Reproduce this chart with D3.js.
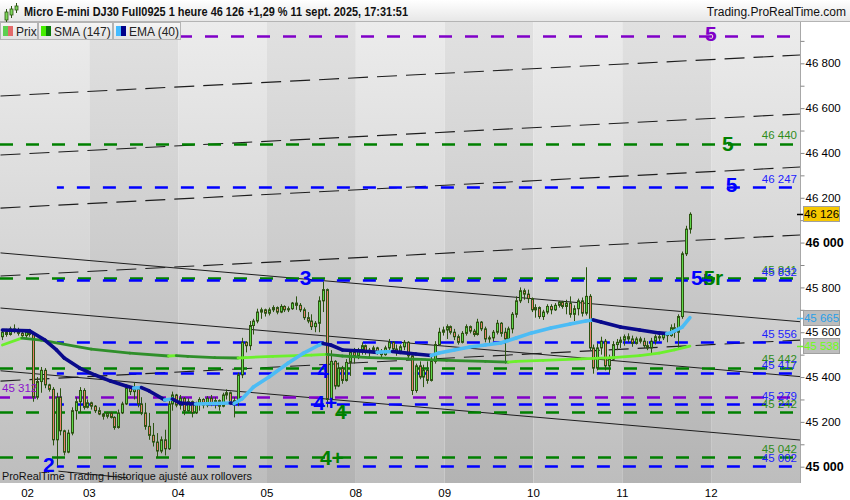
<!DOCTYPE html>
<html><head><meta charset="utf-8">
<script src="https://cdn.jsdelivr.net/npm/d3@7"></script>
<style>body{margin:0;background:#fff;}svg{display:block;font-family:"Liberation Sans",Arial,sans-serif;}</style>
</head><body><svg id="c" width="850" height="500"></svg>
<script>
// ---------- DATA ----------
const title = "Micro E-mini DJ30 Full0925 1 heure 46 126 +1,29 % 11 sept. 2025, 17:31:51";
const source = "Trading.ProRealTime.com";
const footer = "ProRealTime Trading  Historique ajusté aux rollovers";
const legendNames = ["Prix", "SMA (147)", "EMA (40)"];
const dayLabels = ["02","03","04","05","08","09","10","11","12"];
const dayTickSlots = [7, 23, 46, 69, 92, 115, 138, 161, 184];
const dayBounds = [0, 23, 46, 69, 92, 115, 138, 161, 184, 207];

const opens = [
45580,45600,45590,45615,45605,45595,45585,45600,45590,45310,
45380,45430,45365,45345,45120,45310,45160,45065,45150,45250,
45290,45340,45265,45285,45270,45250,45235,45225,45240,45220,
45175,45240,45280,45350,45335,45345,45280,45240,45180,45140,
45110,45070,45120,45080,45280,45320,45275,45305,45250,45290,
45240,45280,45300,45275,45305,45285,45295,45270,45320,45330,
45285,45295,45410,45555,45540,45630,45650,45690,45700,45685,
45700,45710,45690,45715,45700,45705,45730,45720,45700,45665,
45650,45625,45640,45740,45790,45300,45470,45360,45440,45385,
45465,45510,45495,45520,45540,45510,45520,45530,45510,45500,
45530,45555,45525,45510,45535,45555,45495,45340,45450,45400,
45430,45385,45470,45545,45600,45610,45625,45600,45580,45555,
45595,45625,45605,45590,45645,45615,45570,45575,45600,45640,
45600,45570,45615,45680,45740,45785,45770,45750,45700,45710,
45670,45690,45715,45700,45720,45735,45715,45730,45680,45705,
45740,45685,45760,45530,45440,45530,45560,45450,45480,45545,
45555,45565,45580,45570,45550,45570,45560,45540,45530,45560,
45580,45575,45590,45585,45620,45600,45670,45950,46060];
const highs = [
45610,45615,45625,45635,45620,45610,45605,45615,45600,45400,
45445,45440,45370,45355,45330,45350,45165,45165,45265,45310,
45355,45350,45300,45290,45275,45265,45240,45245,45245,45225,
45255,45290,45365,45355,45375,45350,45310,45285,45240,45195,
45150,45135,45165,45300,45335,45325,45320,45310,45305,45295,
45290,45310,45305,45315,45320,45310,45300,45330,45345,45335,
45310,45420,45575,45560,45650,45660,45705,45710,45705,45710,
45720,45715,45725,45720,45715,45735,45760,45730,45710,45690,
45680,45650,45760,45825,45795,45520,45475,45465,45450,45480,
45525,45530,45530,45555,45545,45530,45540,45535,45525,45540,
45570,45560,45545,45545,45565,45560,45510,45460,45470,45455,
45470,45490,45560,45620,45625,45635,45630,45615,45590,45605,
45635,45630,45615,45660,45650,45625,45585,45610,45655,45645,
45620,45625,45690,45760,45800,45795,45790,45755,45725,45715,
45700,45725,45725,45730,45740,45740,45745,45760,45720,45750,
45755,45890,45770,45545,45550,45580,45570,45500,45560,45570,
45580,45590,45595,45585,45580,45580,45575,45560,45575,45590,
45595,45600,45600,45635,45640,45680,45960,46075,46135];
const lows = [
45565,45580,45585,45595,45585,45575,45570,45580,45290,45300,
45330,45350,45335,45095,45005,45140,45050,45060,45140,45210,
45240,45255,45260,45255,45240,45230,45210,45215,45215,45165,
45170,45235,45275,45320,45300,45265,45230,45165,45120,45090,
45040,45060,45050,45075,45250,45265,45255,45230,45245,45220,
45235,45250,45260,45265,45270,45260,45250,45265,45300,45275,
45220,45270,45395,45510,45520,45590,45640,45660,45670,45675,
45690,45680,45685,45690,45690,45700,45700,45690,45655,45640,
45610,45600,45600,45690,45265,45280,45345,45355,45370,45380,
45405,45460,45480,45500,45500,45490,45505,45500,45485,45495,
45520,45515,45495,45505,45520,45480,45320,45330,45390,45355,
45370,45380,45460,45540,45585,45570,45590,45565,45545,45550,
45585,45595,45580,45585,45605,45555,45545,45560,45590,45580,
45460,45560,45595,45665,45730,45745,45730,45690,45665,45660,
45655,45680,45680,45695,45710,45705,45680,45665,45650,45675,
45670,45675,45520,45415,45430,45500,45430,45415,45475,45520,
45530,45540,45555,45535,45545,45550,45530,45520,45505,45545,
45560,45565,45555,45580,45575,45530,45660,45940,46040];
const closes = [
45600,45590,45615,45605,45595,45585,45600,45590,45310,45380,
45430,45365,45345,45120,45310,45160,45065,45150,45250,45290,
45340,45265,45285,45270,45250,45235,45225,45240,45220,45175,
45240,45280,45350,45335,45345,45280,45240,45180,45140,45110,
45070,45120,45080,45280,45320,45275,45305,45250,45290,45240,
45280,45300,45275,45305,45285,45295,45270,45320,45330,45285,
45295,45410,45555,45540,45630,45650,45690,45700,45685,45700,
45710,45690,45715,45700,45705,45730,45720,45700,45665,45650,
45625,45640,45740,45790,45300,45470,45360,45440,45385,45465,
45510,45495,45520,45540,45510,45520,45530,45510,45500,45530,
45555,45525,45510,45535,45555,45495,45340,45450,45400,45430,
45385,45470,45545,45600,45610,45625,45600,45580,45555,45595,
45625,45605,45590,45645,45615,45570,45575,45600,45640,45595,
45570,45615,45680,45740,45785,45770,45750,45700,45710,45670,
45690,45715,45700,45720,45735,45715,45730,45680,45705,45740,
45685,45760,45530,45440,45530,45560,45450,45480,45545,45555,
45565,45580,45570,45550,45570,45560,45540,45530,45560,45580,
45575,45590,45585,45620,45600,45670,45950,46060,46126];

const smaIdx = [0,5,10,23,33,43,45,48,55,61,63,70,80,84,88,95,105,115,125,131,133,140,150,158,165,170,174,178];
const smaVals = [45543,45574,45565,45525,45507,45494,45496,45492,45487,45485,45487,45492,45498,45501,45494,45487,45481,45474,45470,45467,45470,45474,45481,45487,45496,45507,45521,45538];
const emaIdx = [0,7,11,14,16,20,24,28,32,34,36,38,42,44,46,50,55,59,60,62,65,69,74,78,82,83,85,88,93,97,98,101,103,107,111,113,117,121,125,129,133,137,142,147,151,153,155,160,165,170,172,173,176,178];
const emaVals = [45610,45606,45565,45521,45485,45440,45409,45382,45360,45351,45353,45338,45298,45302,45284,45280,45282,45284,45282,45302,45356,45400,45463,45507,45543,45550,45543,45521,45516,45510,45512,45514,45510,45503,45496,45507,45521,45534,45543,45552,45574,45597,45619,45637,45650,45655,45646,45623,45610,45597,45594,45597,45623,45665];

const levelValues = [46922, 46440, 46247, 45841, 45832, 45556, 45442, 45417, 45312, 45279, 45242, 45042, 45002];
const levelKinds  = ["p","g","b","g","b","b","g","b","p","b","g","g","b"];
const levelLabelSide = ["none","right","right","right","right","right","right","right","left","right","right","right","right"];

const solidTrends = [[45954,45647],[45708,45402],[45428,45119]];
const dashedTrends = [[46654,46837],[46391,46574],[46154,46337],[45851,46034],[45382,45565]];

const markerTexts  = ["2","3","4","4+","4","4+","5","5","5","5r","5r"];
const markerKinds  = ["b","b","b","b","g","g","p","g","b","b","g"];
const markerSlot   = [11.0,77.5,82.0,81.0,86.6,82.7,182.4,186.8,187.8,178.8,182.0];
const markerPrice  = [44976,45811,45396,45253,45213,45008,46899,46409,46226,45811,45811];

const priceTagValues = [46126, 45665, 45538];

// ---------- SETUP ----------
const svg = d3.select("#c");
const P = {l:0, r:800, t:22, b:483};
const x = d3.scaleLinear().domain([0,207]).range([0.5,800]);
const y = d3.scaleLinear().domain([45000,46800]).range([466.7,63.3]);
const fmt = v => d3.format(",")(v).replace(/,/g," ");
const kindColor = {p:"#8000c8", g:"#008000", b:"#0000ff"};
const kindText = {p:"#8a10cc", g:"#2f8c1a", b:"#1d1dff"};

const defs = svg.append("defs");
function vgrad(id, c1, c2, c3){
  const g = defs.append("linearGradient").attr("id",id).attr("x1",0).attr("x2",0).attr("y1",0).attr("y2",1);
  g.append("stop").attr("offset","0%").attr("stop-color",c1);
  if (c3){ g.append("stop").attr("offset","50%").attr("stop-color",c2); g.append("stop").attr("offset","100%").attr("stop-color",c3);}
  else g.append("stop").attr("offset","100%").attr("stop-color",c2);
}
vgrad("bandL","#ececec","#d6d6d6","#bdbdbd");
vgrad("bandD","#e1e1e1","#cccccc","#b3b3b3");
vgrad("hdr","#ffffff","#e6e6e6");
vgrad("leg","#f6f6f6","#e2e2e2");
defs.append("clipPath").attr("id","clip").append("rect").attr("x",P.l).attr("y",P.t).attr("width",P.r-P.l).attr("height",P.b-P.t);

svg.append("rect").attr("width",850).attr("height",500).attr("fill","#fff");

// bands
const bands = svg.append("g").attr("clip-path","url(#clip)");
for (let k=0;k<dayBounds.length-1;k++){
  const x0 = k===0?0:x(dayBounds[k]), x1 = x(dayBounds[k+1]);
  bands.append("rect").attr("x",x0).attr("y",P.t).attr("width",x1-x0).attr("height",P.b-P.t)
    .attr("fill", k%2===0?"url(#bandL)":"url(#bandD)");
}

const plot = svg.append("g").attr("clip-path","url(#clip)");

// trend lines
solidTrends.forEach(t=>{
  plot.append("line").attr("x1",x(0)).attr("y1",y(t[0])).attr("x2",x(207)).attr("y2",y(t[1]))
    .attr("stroke","#1e1e1e").attr("stroke-width",1);
});
dashedTrends.forEach(t=>{
  plot.append("line").attr("x1",x(0)).attr("y1",y(t[0])).attr("x2",x(207)).attr("y2",y(t[1]))
    .attr("stroke","#1e1e1e").attr("stroke-width",1.1).attr("stroke-dasharray","20,9");
});
plot.append("line").attr("x1",x(15)).attr("y1",y(44980)).attr("x2",x(33)).attr("y2",y(44950))
  .attr("stroke","#1e1e1e").attr("stroke-width",1);

// horizontal level lines
levelValues.forEach((v,i)=>{
  const k = levelKinds[i];
  const xs = k==="b" ? x(14.6) : 0;
  plot.append("line").attr("x1",xs).attr("x2",800).attr("y1",Math.round(y(v))+0.5).attr("y2",Math.round(y(v))+0.5)
    .attr("stroke",kindColor[k]).attr("stroke-width",2.5).attr("stroke-dasharray","13,13")
    .attr("stroke-dashoffset", k==="g"?0:(k==="b"?6:3));
});

// candles
const wickC = "#2d5412";
for (let i=0;i<opens.length;i++){
  const px = Math.round(x(i+0.5));
  const up = closes[i] >= opens[i];
  plot.append("line").attr("x1",px+0.5).attr("x2",px+0.5).attr("y1",y(highs[i])).attr("y2",y(lows[i]))
    .attr("stroke",wickC).attr("stroke-width",1);
  const top = y(Math.max(opens[i],closes[i])), bot = y(Math.min(opens[i],closes[i]));
  plot.append("rect").attr("x",px-0.5).attr("width",2).attr("y",top).attr("height",Math.max(1,bot-top))
    .attr("fill", up?"#5fd84a":"#ea7f6c").attr("stroke",wickC).attr("stroke-width",1);
}

// moving averages
function drawMA(idx, vals, upC, downC, w){
  for (let k=0;k<idx.length-1;k++){
    const rising = vals[k+1] >= vals[k];
    plot.append("line").attr("x1",x(idx[k]+0.5)).attr("y1",y(vals[k])).attr("x2",x(idx[k+1]+0.5)).attr("y2",y(vals[k+1]))
      .attr("stroke", rising?upC:downC).attr("stroke-width",w).attr("stroke-linecap","round");
  }
}
drawMA(smaIdx, smaVals, "#6cf02c", "#2f8f2a", 2.8);
drawMA(emaIdx, emaVals, "#4cbcf5", "#0a0a8c", 3.6);

// level labels
levelValues.forEach((v,i)=>{
  const side = levelLabelSide[i]; if (side==="none") return;
  const t = svg.append("text").attr("y",y(v)-4.5).attr("font-size",11.5).attr("fill",kindText[levelKinds[i]]).text(fmt(v));
  if (side==="right") t.attr("x",797).attr("text-anchor","end");
  else t.attr("x",2);
});

// markers
markerTexts.forEach((s,i)=>{
  svg.append("text").attr("x",x(markerSlot[i])).attr("y",y(markerPrice[i]))
    .attr("font-size",21).attr("font-weight","bold").attr("fill",kindColor[markerKinds[i]]).text(s);
});

// right axis area
svg.append("rect").attr("x",801).attr("y",P.t).attr("width",49).attr("height",478).attr("fill","#fff");
svg.append("rect").attr("x",0).attr("y",P.b).attr("width",850).attr("height",17).attr("fill","#fff");
svg.append("line").attr("x1",800.5).attr("x2",800.5).attr("y1",P.t).attr("y2",P.b).attr("stroke","#a8a8a8");

const axis = d3.axisRight(y).tickValues(d3.range(45000,46901,100)).tickSize(4).tickPadding(1)
  .tickFormat(v => v%200===0 ? fmt(v) : "");
const ag = svg.append("g").attr("transform","translate(800.5,0)").call(axis);
ag.select(".domain").remove();
ag.selectAll(".tick line").attr("stroke","#888");
ag.selectAll(".tick text").attr("fill","#000").attr("font-family","Liberation Sans, Arial, sans-serif")
  .attr("font-weight", d => d%1000===0 ? "bold":"normal").attr("font-size", d => d%1000===0 ? 12.5 : 11.5);

// price tags
const tagFill = ["#f7c800","#bdbdbd","#bdbdbd"];
const tagText = ["#000","#2a9fe8","#6dff10"];
const tagTick = ["#000","#4cbcf5","#6cf02c"];
priceTagValues.forEach((v,i)=>{
  const yy = Math.round(y(v));
  svg.append("line").attr("x1",797).attr("x2",803).attr("y1",yy+0.5).attr("y2",yy+0.5).attr("stroke",tagTick[i]).attr("stroke-width",1.5);
  svg.append("rect").attr("x",803.5).attr("y",yy-7.5).attr("width",36).attr("height",15).attr("fill",tagFill[i]).attr("stroke","#a0a0a0");
  svg.append("text").attr("x",821.5).attr("y",yy+4).attr("text-anchor","middle").attr("font-size",11.5).attr("fill",tagText[i]).text(fmt(v));
});

// x axis labels
dayLabels.forEach((d,i)=>{
  svg.append("text").attr("x",x(dayTickSlots[i])).attr("y",497).attr("text-anchor","middle").attr("font-size",11.5).attr("fill","#000").text(d);
});

// footer text
function fit(sel,w){ const l = sel.node().getComputedTextLength(); if (Math.abs(l-w)>2) sel.attr("textLength",w).attr("lengthAdjust","spacingAndGlyphs"); }
fit(svg.append("text").attr("x",2).attr("y",480).attr("font-size",11).attr("fill","#111").text(footer), 250);

// header
svg.append("rect").attr("x",0).attr("y",0).attr("width",850).attr("height",22).attr("fill","url(#hdr)");
svg.append("line").attr("x1",0).attr("x2",850).attr("y1",21.5).attr("y2",21.5).attr("stroke","#b4b4b4");
[[5,9,14],[10,6,12],[15,3,10]].forEach(c=>{
  svg.append("line").attr("x1",c[0]+1.5).attr("x2",c[0]+1.5).attr("y1",c[1]).attr("y2",c[1]+c[2]).attr("stroke","#2d5412");
  svg.append("rect").attr("x",c[0]).attr("y",c[1]+3).attr("width",3).attr("height",c[2]-6).attr("fill","#7cd85a").attr("stroke","#2d5412").attr("stroke-width",0.8);
});
fit(svg.append("text").attr("x",24).attr("y",16).attr("font-size",12).attr("font-weight","bold").attr("fill","#111").text(title), 384);
fit(svg.append("text").attr("x",846).attr("y",16).attr("text-anchor","end").attr("font-size",12).attr("fill","#111").text(source), 141);

// legend
const legBoxes = [[0,37],[38,112],[113,180]];
const legSw = [["#5ccf50","#e26a6a"],["#44ee00","#0a7a0a"],["#44bbff","#00008b"]];
const legTx = [16,54,129];
legendNames.forEach((n,i)=>{
  const b = legBoxes[i];
  svg.append("rect").attr("x",b[0]+0.5).attr("y",22.5).attr("width",b[1]-b[0]).attr("height",17).attr("fill","url(#leg)").attr("stroke","#b4b4b4");
  svg.append("rect").attr("x",b[0]+3).attr("y",26).attr("width",5).attr("height",10).attr("fill",legSw[i][0]);
  svg.append("rect").attr("x",b[0]+8).attr("y",26).attr("width",5).attr("height",10).attr("fill",legSw[i][1]);
  svg.append("text").attr("x",legTx[i]).attr("y",35.5).attr("font-size",12).attr("fill","#222").text(n);
});
</script></body></html>
